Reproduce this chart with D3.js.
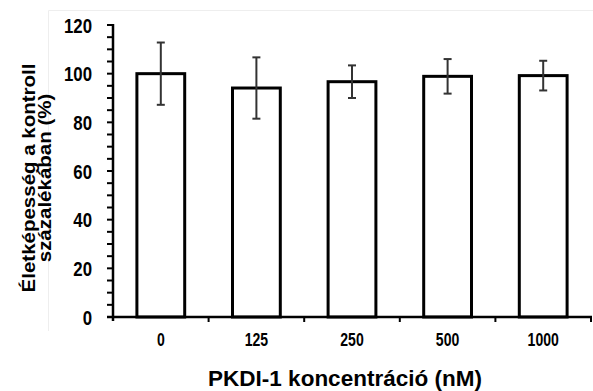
<!DOCTYPE html>
<html><head><meta charset="utf-8">
<script src="https://cdn.jsdelivr.net/npm/d3@7"></script>
<style>body{margin:0;background:#fff;} svg{display:block;}</style>
</head><body>
<script>
const categories = ["0","125","250","500","1000"];
const values = [100, 94.1, 96.7, 98.9, 99.2];
const errors = [12.8, 12.6, 6.7, 7.1, 6.1];
const yTicks = [0,20,40,60,80,100,120];

const W = 593, H = 391;
const svg = d3.select("body").append("svg").attr("width", W).attr("height", H);
const font = "'Liberation Sans', Arial, sans-serif";

// faint frame
svg.append("path").attr("d","M48.5,331 V10.5 H593").attr("fill","none").attr("stroke","#eeeeee").attr("stroke-width",1);

const x = d3.scaleBand().domain(categories).range([113, 591]).paddingInner(0.5).paddingOuter(0.25);
const y = d3.scaleLinear().domain([0,120]).range([317, 25]);

// ticks every 5
const g = svg.append("g");
g.selectAll("line.tk").data(d3.range(0,121,5)).join("line")
  .attr("x1",107).attr("x2",113).attr("y1",d=>y(d)).attr("y2",d=>y(d))
  .attr("stroke","#000").attr("stroke-width",2);
g.append("line").attr("x1",113).attr("x2",113).attr("y1",y(120)-1).attr("y2",y(0)+4).attr("stroke","#000").attr("stroke-width",2.5);
g.selectAll("text.yl").data(yTicks).join("text")
  .attr("transform",d=>`translate(92,${y(d)+7.5}) scale(0.8,1)`).attr("text-anchor","end")
  .attr("font-family",font).attr("font-weight","bold").attr("font-size",21).text(d=>d);

// bars
svg.selectAll("rect.bar").data(categories).join("rect")
  .attr("x",d=>x(d)).attr("width",x.bandwidth())
  .attr("y",(d,i)=>y(values[i])).attr("height",(d,i)=>y(0)-y(values[i]))
  .attr("fill","#fff").attr("stroke","#000").attr("stroke-width",3);

// x axis
svg.append("line").attr("x1",107).attr("x2",592).attr("y1",y(0)).attr("y2",y(0)).attr("stroke","#000").attr("stroke-width",2.5);
svg.selectAll("line.xt").data(categories).join("line")
  .attr("x1",d=>x(d)+x.bandwidth()*1.5).attr("x2",d=>x(d)+x.bandwidth()*1.5)
  .attr("y1",y(0)).attr("y2",y(0)+5).attr("stroke","#000").attr("stroke-width",2);
svg.selectAll("text.xl").data(categories).join("text")
  .attr("transform",d=>`translate(${x(d)+x.bandwidth()/2},346) scale(0.76,1)`).attr("text-anchor","middle")
  .attr("font-family",font).attr("font-weight","bold").attr("font-size",18.5).text(d=>d);

// error bars
const eb = svg.selectAll("g.eb").data(categories).join("g").attr("stroke","#333").attr("stroke-width",2);
eb.append("line").attr("x1",d=>x(d)+x.bandwidth()/2).attr("x2",d=>x(d)+x.bandwidth()/2)
  .attr("y1",(d,i)=>y(values[i]+errors[i])).attr("y2",(d,i)=>y(values[i]-errors[i]));
eb.append("line").attr("x1",d=>x(d)+x.bandwidth()/2-4).attr("x2",d=>x(d)+x.bandwidth()/2+4)
  .attr("y1",(d,i)=>y(values[i]+errors[i])).attr("y2",(d,i)=>y(values[i]+errors[i]));
eb.append("line").attr("x1",d=>x(d)+x.bandwidth()/2-4).attr("x2",d=>x(d)+x.bandwidth()/2+4)
  .attr("y1",(d,i)=>y(values[i]-errors[i])).attr("y2",(d,i)=>y(values[i]-errors[i]));

// titles
svg.append("text").attr("x",345).attr("y",386).attr("text-anchor","middle")
  .attr("font-family",font).attr("font-weight","bold").attr("font-size",22.5).text("PKDI-1 koncentráció (nM)");
const yt = svg.append("text").attr("transform","translate(0,178) rotate(-90) scale(1,0.85)").attr("text-anchor","middle")
  .attr("font-family",font).attr("font-weight","bold").attr("font-size",20.5);
yt.append("tspan").attr("x",0).attr("y",41).text("Életképesség a kontroll");
yt.append("tspan").attr("x",0).attr("y",60).text("százalékában (%)");
</script>
</body></html>
